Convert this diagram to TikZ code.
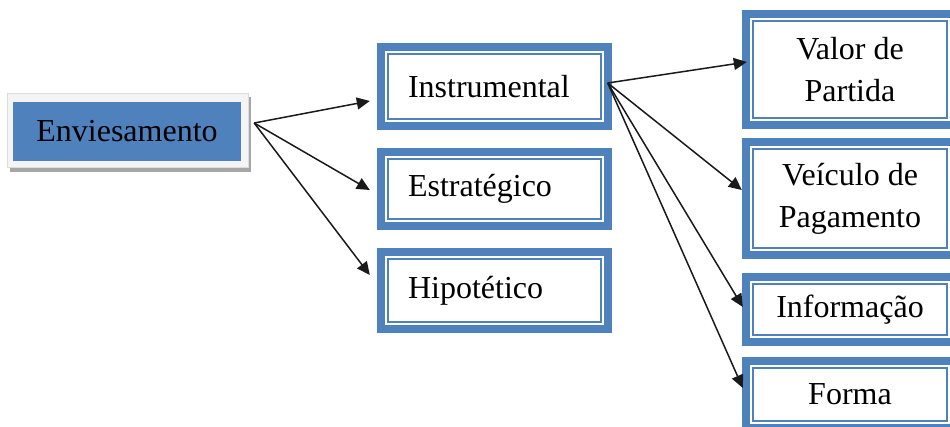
\documentclass[tikz,border=0pt]{standalone}
\usepackage{fontspec}
\newfontfamily\boxface{LiberationSerif-Regular.ttf}
\usetikzlibrary{arrows.meta}
\definecolor{ofblue}{HTML}{4F81BD}
\definecolor{framegray}{HTML}{F4F4F4}
\definecolor{edgegray}{HTML}{DDDDDD}
\definecolor{shadowgray}{HTML}{A6A6A6}
\definecolor{arrowink}{HTML}{1A1A1A}
\tikzset{
  boxfont/.style={font=\boxface\fontsize{32}{42}\selectfont, text=black},
  % blue frame: thick outer band, white gap, thin inner rule
  framedbox/.style 2 args={rectangle, fill=ofblue, boxfont,
    minimum width=#1, minimum height=#2, inner sep=0pt,
    path picture={
      \fill[white] ([xshift=8pt,yshift=-8pt]path picture bounding box.north west)
        rectangle ([xshift=-8pt,yshift=8pt]path picture bounding box.south east);
      \draw[ofblue, line width=1.6pt]
        ([xshift=11pt,yshift=-11pt]path picture bounding box.north west)
        rectangle ([xshift=-11pt,yshift=11pt]path picture bounding box.south east);
    }},
  midbox/.style={framedbox={235pt}{#1}, text width=173pt, align=left, inner xsep=31pt},
  rightbox/.style={framedbox={216pt}{#1}, align=center},
  link/.style={draw=arrowink, line width=1.5pt,
    -{Triangle[length=13pt,width=12pt]}},
}
\begin{document}
\begin{tikzpicture}[x=1pt, y=-1pt]
  \useasboundingbox (0,0) rectangle (950,426);
  \clip (0,0) rectangle (950,426);

  % root box with its pale mat and drop shadow
  \fill[shadowgray] (10,97) rectangle (251,172);
  \filldraw[fill=framegray, draw=edgegray, line width=0.6pt] (7,93) rectangle (248,167);
  \node[rectangle, fill=ofblue, boxfont, minimum width=228pt, minimum height=59pt,
        inner sep=0pt] (env) at (127,131.5) {Enviesamento};

  % middle column
  \node[midbox=87pt] (instr) at (494.5,86.5) {Instrumental};
  \node[midbox=82pt] (estr)  at (494.5,189)  {Estratégico};
  \node[midbox=85pt] (hipo)  at (494.5,290.5) {Hipotético};

  % right column (runs past the right edge)
  \node[rightbox=119pt] (valor) at (850,69.5)  {Valor de\\Partida};
  \node[rightbox=121pt] (veic)  at (850,198.5) {Veículo de\\Pagamento};
  \node[rightbox=73pt]  (info)  at (850,309.5) {Informação};
  \node[rightbox=75pt]  (forma) at (850,394.5) {Forma};

  % connectors
  \coordinate (envout)   at ([xshift=13pt,yshift=8.5pt]env.east);
  \coordinate (instrout) at ([xshift=-4.5pt,yshift=3.5pt]instr.east);

  \draw[link] (envout) -- ([xshift=-7pt,yshift=-14.5pt]instr.west);
  \draw[link] (envout) -- ([xshift=-7pt,yshift=-1pt]estr.west);
  \draw[link] (envout) -- ([xshift=-7pt,yshift=15.5pt]hipo.west);

  \draw[link] (instrout) -- ([xshift=5pt,yshift=7.5pt]valor.west);
  \draw[link] (instrout) -- ([xshift=0pt,yshift=8.5pt]veic.west);
  \draw[link] (instrout) -- ([xshift=1pt,yshift=2.5pt]info.west);
  \draw[link] (instrout) -- ([xshift=1pt,yshift=6.5pt]forma.west);
\end{tikzpicture}
\end{document}
